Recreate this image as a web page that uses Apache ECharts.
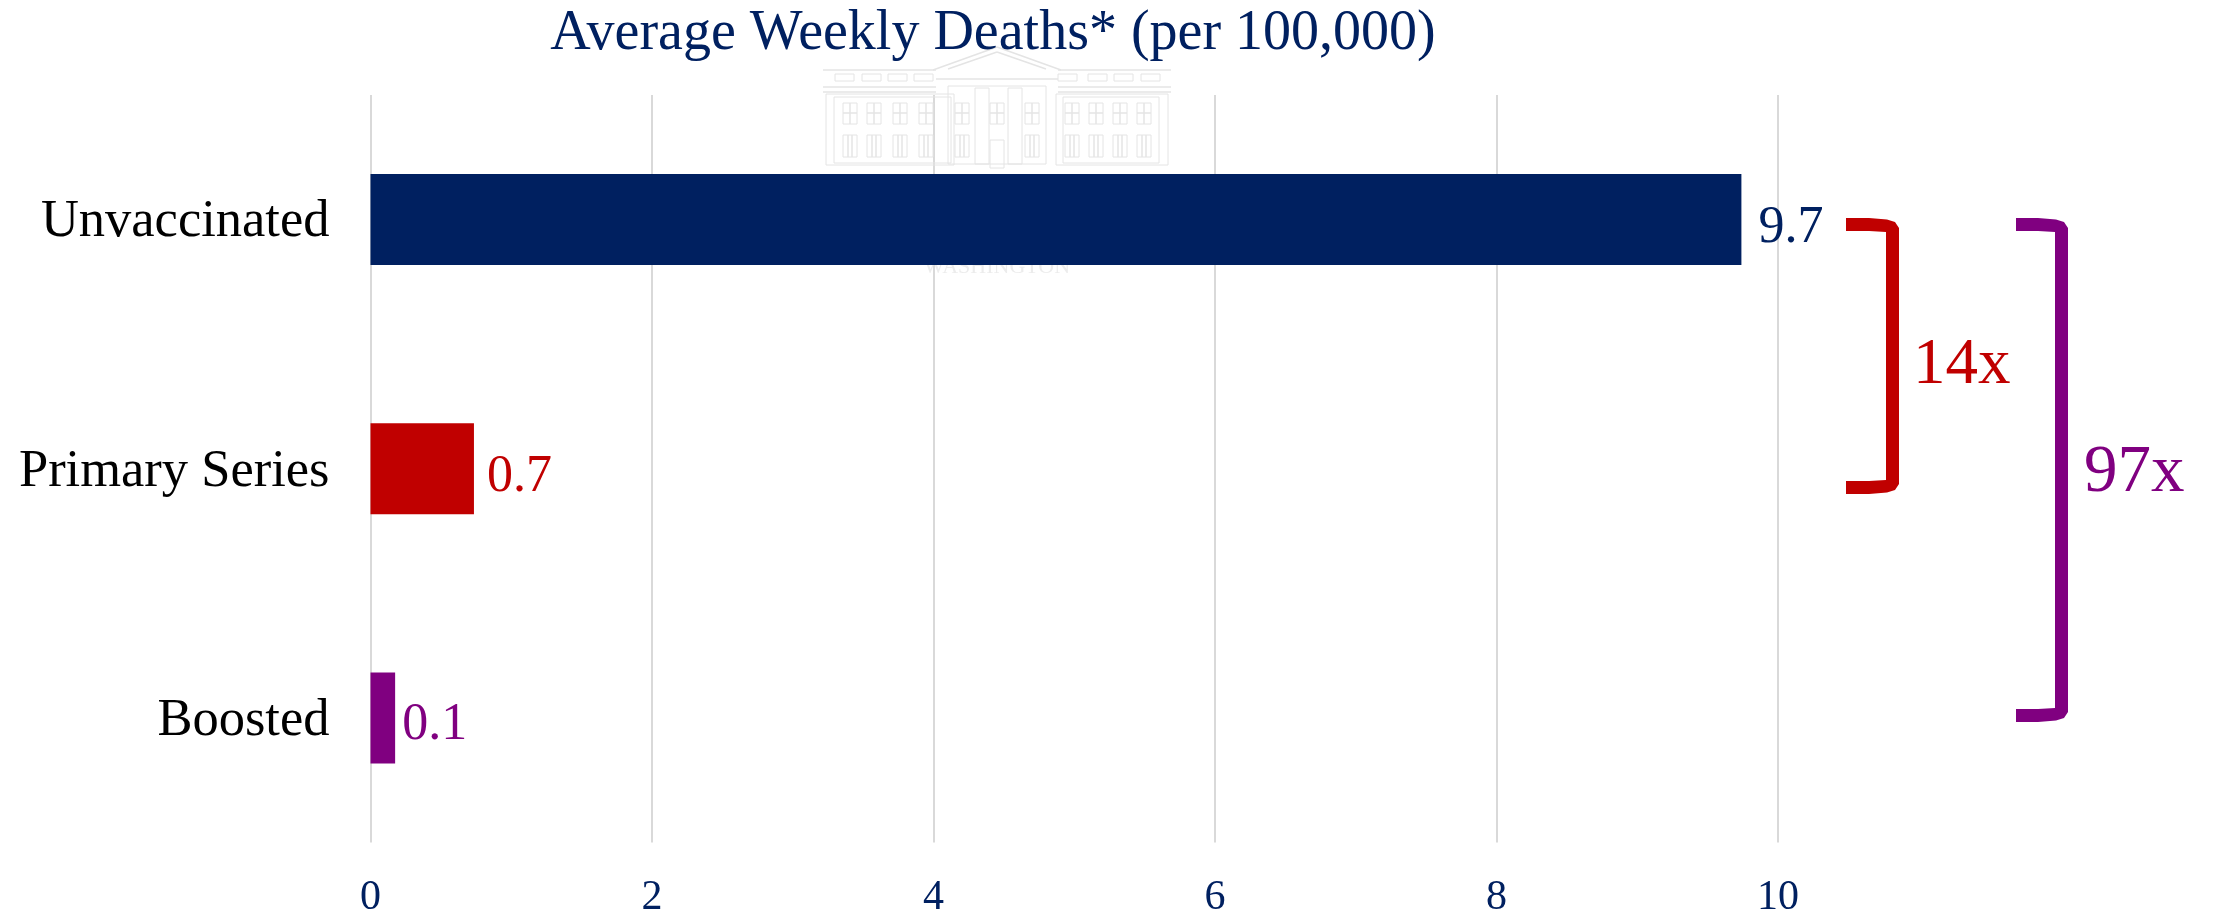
<!DOCTYPE html>
<html><head><meta charset="utf-8">
<style>html,body{margin:0;padding:0;background:#fff}#c{width:2213px;height:914px}</style>
<script src="https://cdn.jsdelivr.net/npm/echarts@6/dist/echarts.min.js"></script></head>
<body><div id="c"></div>
<script>
const categories = ['Unvaccinated','Primary Series','Boosted'];
const deaths = [9.74, 0.735, 0.175];
const valueLabels = ['9.7','0.7','0.1'];
const barColors = ['#002060','#C00000','#800080'];
const titleText = 'Average Weekly Deaths* (per 100,000)';
const FONT = '"Liberation Serif", serif';
const NAVY = '#002060';

const labelGap = [17,13,7];
const labelDrop = [9,9,7];
const series = [{
  type:'bar', barWidth:91, z:3,
  data:deaths.map((v,i)=>({
    value:v,
    itemStyle:{color:barColors[i]},
    label:{show:true, position:'right', distance:labelGap[i], offset:[0,labelDrop[i]],
      formatter:()=>valueLabels[i], color:barColors[i], fontFamily:FONT, fontSize:52}
  }))
}];

function bracket(x0,x1,y0,y1,color){
  const t=13;
  return {type:'polygon', z:5, shape:{points:[
    [x0,y0],[x1-30,y0],[x1-12,y0+1.5],[x1-4,y0+4],[x1,y0+10],
    [x1,y1-10],[x1-4,y1-4],[x1-12,y1-1.5],[x1-30,y1],[x0,y1],
    [x0,y1-t],[x1-30,y1-t],[x1-t,y1-t-1],[x1-t,y0+t+1],[x1-30,y0+t],[x0,y0+t]
  ]}, style:{fill:color}};
}

// faint building watermark behind the chart
const wm = '#e4e4e4';
const wmEls = [];
const wmRect=(x,y,w,h)=>wmEls.push({type:'rect',z:1,shape:{x,y,width:w,height:h},style:{fill:'none',stroke:wm,lineWidth:1}});
const wmLine=(a,b,c,d)=>wmEls.push({type:'line',z:1,shape:{x1:a,y1:b,x2:c,y2:d},style:{stroke:wm,lineWidth:1.5}});
[843,867,893,919,955,990,1025,1065,1089,1113,1137].forEach(x=>{
  wmRect(x,103,14,21); wmLine(x,113,x+14,113); wmLine(x+7,103,x+7,124);
  if(x!==990){wmRect(x,135,14,22); wmLine(x+5,135,x+5,157); wmLine(x+9,135,x+9,157);}
});
wmRect(990,140,14,28);
wmLine(823,70,936,70); wmLine(1058,70,1171,70); wmLine(823,87,936,87); wmLine(1058,87,1171,87);
wmLine(823,92,936,92); wmLine(1058,92,1171,92); wmLine(936,79,1058,79);
wmLine(933,70,997,47); wmLine(1061,70,997,47); wmLine(948,69,997,52); wmLine(1046,69,997,52);
[835,862,888,914,1058,1088,1114,1141].forEach(x=>wmRect(x,74,19,7));
wmRect(826,94,128,71); wmRect(1056,94,112,71); wmRect(834,97,117,66); wmRect(1063,97,96,66);
wmRect(948,86,98,78); wmRect(975,88,14,76); wmRect(1008,88,14,76);
wmEls.push({type:'text',z:1,style:{x:997,y:267,text:'WASHINGTON',align:'center',verticalAlign:'middle',
  fill:'#ececec',font:'22px '+FONT}});

const chart = echarts.init(document.getElementById('c'),null,{renderer:'canvas'});
chart.setOption({
  animation:false, backgroundColor:'#fff',
  title:{text:titleText, left:988, top:1, textAlign:'center',
    textStyle:{fontFamily:FONT,fontSize:56,fontWeight:'normal',color:NAVY}},
  grid:{left:370.5, right:2213-1778, top:95, bottom:914-842.6, outerBoundsMode:'none'},
  xAxis:{type:'value',min:0,max:10,interval:2,
    axisLine:{show:false},axisTick:{show:false},
    splitLine:{show:true,lineStyle:{color:'#d9d9d9',width:2}},
    axisLabel:{color:NAVY,fontFamily:FONT,fontSize:42,margin:34}},
  yAxis:{type:'category',inverse:true,data:categories,
    axisLine:{show:false},axisTick:{show:false},splitLine:{show:false},
    axisLabel:{margin:41,
      formatter:(v)=>'{a|'+v+'}',
      rich:{a:{color:'#000',fontFamily:FONT,fontSize:52.5,padding:[6,0,0,0]}}}},
  series,
  graphic:[
    ...wmEls,
    bracket(1846,1899,218,494,'#C00000'),
    bracket(2016,2068,218,722,'#800080'),
    {type:'text',z:5,style:{x:1913,y:366,text:'14x',align:'left',verticalAlign:'middle',fill:'#C00000',font:'65px '+FONT}},
    {type:'text',z:5,style:{x:2084,y:473,text:'97x',align:'left',verticalAlign:'middle',fill:'#800080',font:'67px '+FONT}}
  ]
});
</script></body></html>
